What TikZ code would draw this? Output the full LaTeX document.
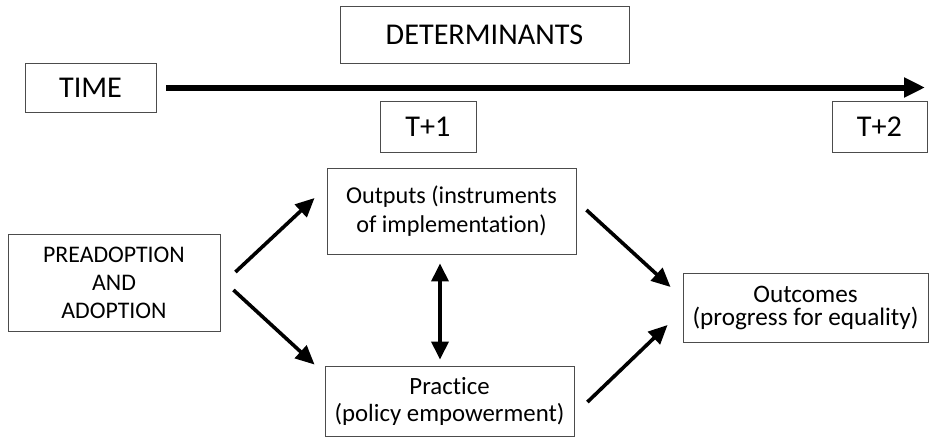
\documentclass[tikz,border=0pt]{standalone}
\usepackage{fontspec}
\setmainfont{Carlito}[Ligatures=NoCommon]
\usetikzlibrary{calc}
\usetikzlibrary{arrows.meta}

\tikzset{
  box/.style={draw=black!70, line width=0.9pt, align=center, inner sep=0pt},
  bigbox/.style={box, font=\fontsize{30.2}{35}\selectfont},
  smallbox/.style={box, font=\fontsize{23.8}{28}\selectfont},
  flow/.style={line width=3.6pt, -{Triangle[length=19pt,width=17pt]}},
}

\begin{document}
\begin{tikzpicture}[x=1pt,y=-1pt]
\useasboundingbox (0,0) rectangle (929,437);

% time line
\node[bigbox, minimum width=289, minimum height=57] (det) at (484.5,34.5) {DETERMINANTS};
\node[bigbox, minimum width=131, minimum height=49] (time) at (90.5,87.5) {TIME};
\node[bigbox, minimum width=96, minimum height=51] (t1) at (428,126.5) {T+1};
\node[bigbox, minimum width=95, minimum height=51] (t2) at (879.5,126.5) {T+2};
\coordinate (tend) at (925,87.5);
\draw[line width=6pt, -{Triangle[length=21pt,width=19pt]}] ($(time.east)+(10,0)$) -- (tend);

% policy stages
\node[smallbox, minimum width=212, minimum height=97] (pre) at (114,282.5) {PREADOPTION\\AND\\ADOPTION};
\node[smallbox, minimum width=249, minimum height=86, font=\fontsize{24.2}{29}\selectfont] (outputs) at (451.5,211) {Outputs (instruments\\of implementation)};
\node[smallbox, minimum width=249, minimum height=70, font=\fontsize{24.8}{27}\selectfont] (practice) at (449.5,401) {Practice\\(policy empowerment)};
\node[smallbox, minimum width=245, minimum height=69, font=\fontsize{25.2}{23}\selectfont] (outcomes) at (805.5,307.5) {Outcomes\\(progress for equality)};

\draw[flow] ($(pre.east)+(15,-10.5)$) -- ($(outputs.west)+(-12,-13)$);
\draw[flow] ($(pre.east)+(13,7.5)$) -- ($(practice.north west)+(-10,-1)$);
\draw[flow, {Triangle[length=18pt,width=17pt]}-{Triangle[length=18pt,width=17pt]}] ($(outputs.south)+(-11.5,9)$) -- ($(practice.north)+(-9.5,-6)$);
\draw[flow] ($(outputs.east)+(10,-1)$) -- ($(outcomes.west)+(-12,-20.5)$);
\draw[flow] ($(practice.east)+(13,1)$) -- ($(outcomes.west)+(-15,17.5)$);

\end{tikzpicture}
\end{document}
